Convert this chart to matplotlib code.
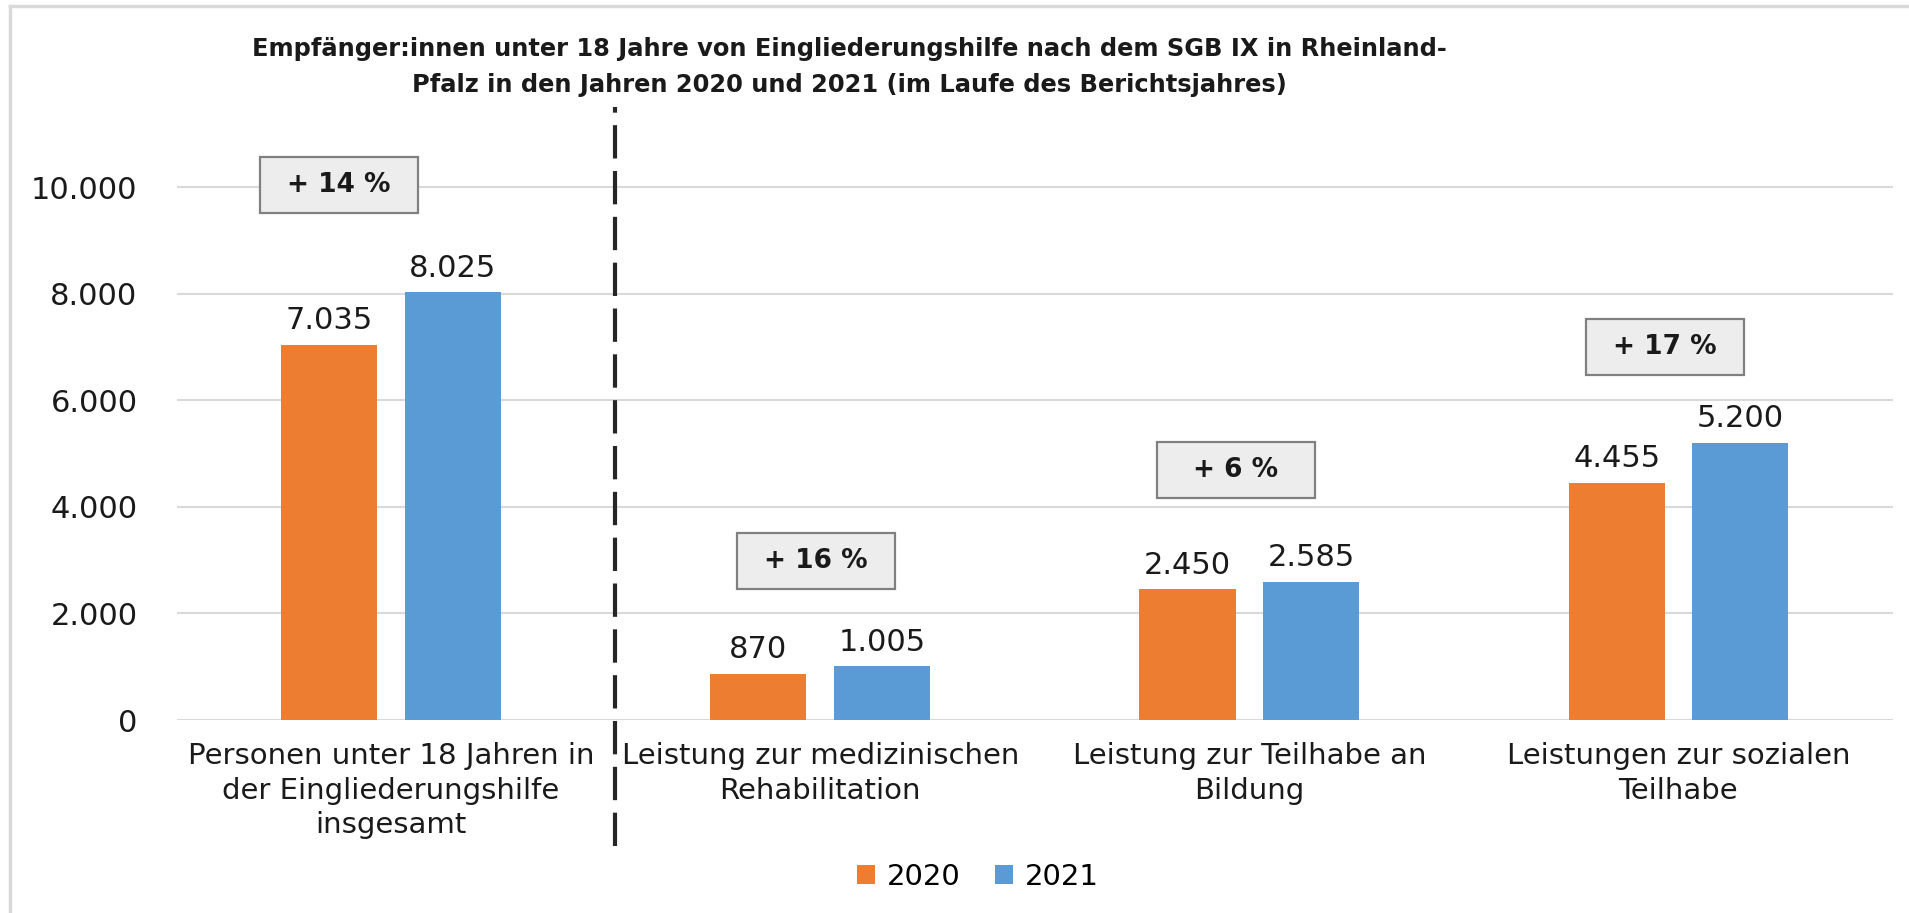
import numpy as np
import matplotlib.pyplot as plt
from matplotlib.patches import Rectangle
from matplotlib.lines import Line2D

# Daten
kategorien = ['Personen unter 18 Jahren in\nder Eingliederungshilfe\ninsgesamt',
              'Leistung zur medizinischen\nRehabilitation',
              'Leistung zur Teilhabe an\nBildung',
              'Leistungen zur sozialen\nTeilhabe']
werte_2020 = [7035, 870, 2450, 4455]
werte_2021 = [8025, 1005, 2585, 5200]
veraenderung = ['+ 14 %', '+ 16 %', '+ 6 %', '+ 17 %']
# Lage der Kästen (x in Kategorien, y in Personen)
kasten_x = [-0.122, 0.99, 1.969, 2.968]
kasten_y = [10030, 2980, 4690, 6990]
y_ticks = [0, 2000, 4000, 6000, 8000, 10000]

orange = '#ED7D31'
blau = '#5B9BD5'
textfarbe = '#1A1A1A'


def fmt(v):
    return f'{v:,}'.replace(',', '.')


fig = plt.figure(figsize=(19.09, 9.13), dpi=100)
ax = fig.add_axes([176.5 / 1909, 1 - 720 / 913, 1716.5 / 1909, 586.3 / 913])

x = np.arange(len(kategorien))
breite = 0.224
b1 = ax.bar(x - 0.144, werte_2020, breite, color=orange, label='2020', zorder=3)
b2 = ax.bar(x + 0.144, werte_2021, breite, color=blau, label='2021', zorder=3)

for bars in (b1, b2):
    for rect in bars:
        h = rect.get_height()
        ax.annotate(fmt(h), (rect.get_x() + rect.get_width() / 2, h),
                    xytext=(0, 7), textcoords='offset points',
                    ha='center', va='bottom', fontsize=22, color=textfarbe)

# Kästen mit der Veränderung
kw, kh = 0.369, 1050
for kx, ky, txt in zip(kasten_x, kasten_y, veraenderung):
    ax.add_patch(Rectangle((kx - kw / 2, ky - kh / 2), kw, kh, facecolor='#EDEDED',
                           edgecolor='#808080', linewidth=1.6, zorder=4, clip_on=False))
    ax.text(kx, ky, txt, ha='center', va='center', fontsize=19, fontweight='bold',
            color=textfarbe, zorder=5)

ax.set_xlim(-0.5, 3.5)
ax.set_ylim(0, 11000)
ax.set_yticks(y_ticks)
ax.set_yticklabels([fmt(v) for v in y_ticks], fontsize=22, color=textfarbe)
ax.set_xticks(x)
ax.set_xticklabels(kategorien, fontsize=21, color=textfarbe, linespacing=1.3)
ax.tick_params(axis='both', length=0)
ax.tick_params(axis='y', pad=28)
ax.tick_params(axis='x', pad=16)
ax.grid(axis='y', color='#D9D9D9', linewidth=1.5, zorder=0)
for s in ax.spines.values():
    s.set_visible(False)

# gestrichelte Trennlinie
ax.axvline(0.523, ymin=-0.215, ymax=1.045, color='#262626', linewidth=3,
           dashes=(8, 3), clip_on=False, zorder=5)

fig.text(0.445, 1 - 67 / 913,
         'Empfänger:innen unter 18 Jahre von Eingliederungshilfe nach dem SGB IX in Rheinland-\n'
         'Pfalz in den Jahren 2020 und 2021 (im Laufe des Berichtsjahres)',
         ha='center', va='center', fontsize=17.4, fontweight='bold', color=textfarbe,
         linespacing=1.62)

fig.legend(handles=[b1, b2], labels=['2020', '2021'], loc='center',
           bbox_to_anchor=(978 / 1909, 1 - 877 / 913), ncol=2, frameon=False,
           fontsize=21, handlelength=0.6, handleheight=0.6, handletextpad=0.4,
           columnspacing=1.2)

# Rahmen des Diagrammbereichs
fig.add_artist(Line2D([10 / 1909, 10 / 1909], [0, 1 - 6 / 913], transform=fig.transFigure,
                      color='#D9D9D9', linewidth=2.5))
fig.add_artist(Line2D([10 / 1909, 1], [1 - 6 / 913, 1 - 6 / 913], transform=fig.transFigure,
                      color='#D9D9D9', linewidth=2.5))

fig.savefig('out.png', dpi=100)
